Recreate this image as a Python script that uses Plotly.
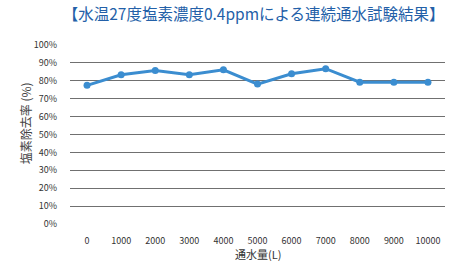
import plotly.graph_objects as go

flow_l = ["0", "1000", "2000", "3000", "4000", "5000", "6000", "7000", "8000", "9000", "10000"]
removal_pct = [77.4, 83.3, 85.7, 83.3, 86.1, 78.1, 83.9, 86.7, 79.2, 79.2, 79.2]
y_ticks = list(range(0, 101, 10))
y_tick_labels = [f"{v}%" for v in y_ticks]

title_text = "【水温27度塩素濃度0.4ppmによる連続通水試験結果】"
x_title = "通水量(L)"
y_title = "塩素除去率 (%)"

font_jp = "Noto Sans CJK JP, Noto Sans, sans-serif"

fig = go.Figure()
fig.add_trace(go.Scatter(
    x=flow_l, y=removal_pct, mode="lines+markers",
    line=dict(color="#3b8dd0", width=3),
    marker=dict(color="#3b8dd0", size=7),
    showlegend=False,
))

fig.update_layout(
    width=457, height=261,
    paper_bgcolor="white", plot_bgcolor="white",
    margin=dict(l=70, r=12, t=44, b=37, autoexpand=False),
    font=dict(family=font_jp, color="#444"),
    title=dict(text=title_text, x=0.555, xanchor="center", y=0.945, yanchor="middle",
               font=dict(family=font_jp, size=15.5, color="#2360a8")),
    xaxis=dict(type="category", range=[-0.5, 10.5], showgrid=False, zeroline=False,
               showline=False, ticks="", ticklabelstandoff=10, automargin=False,
               tickfont=dict(size=9, color="#333")),
    yaxis=dict(range=[0, 100.5], tickvals=y_ticks, ticktext=y_tick_labels,
               showgrid=True, gridcolor="#707070", gridwidth=1, zeroline=False,
               showline=False, ticks="", ticklabelstandoff=12, automargin=False,
               tickfont=dict(size=9, color="#333")),
    annotations=[
        dict(text=x_title, xref="paper", yref="paper", x=0.5, y=-0.168,
             xanchor="center", yanchor="middle", showarrow=False,
             font=dict(family=font_jp, size=11, color="#333")),
        dict(text=y_title, xref="paper", yref="paper", x=-0.12, y=0.56,
             xanchor="center", yanchor="middle", showarrow=False, textangle=-90,
             font=dict(family=font_jp, size=12, color="#444")),
    ],
)

fig.write_html("out.html", config={"displayModeBar": False},
               post_script="document.body.style.margin='0';")
